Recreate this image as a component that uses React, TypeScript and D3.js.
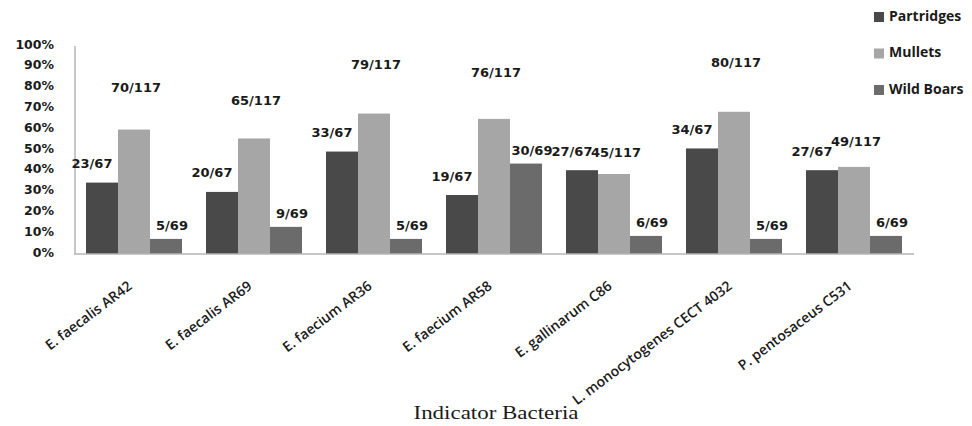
import React from "react";
import * as d3 from "d3";

const categories = [
  "E. faecalis AR42",
  "E. faecalis AR69",
  "E. faecium AR36",
  "E. faecium AR58",
  "E. gallinarum C86",
  "L. monocytogenes CECT 4032",
  "P. pentosaceus C531",
];
const seriesNames = ["Partridges", "Mullets", "Wild Boars"];
const partridgesPositive = [23, 20, 33, 19, 27, 34, 27];
const partridgesTotal = 67;
const mulletsPositive = [70, 65, 79, 76, 45, 80, 49];
const mulletsTotal = 117;
const wildBoarsPositive = [5, 9, 5, 30, 6, 5, 6];
const wildBoarsTotal = 69;
const yTicks = [0, 0.1, 0.2, 0.3, 0.4, 0.5, 0.6, 0.7, 0.8, 0.9, 1.0];

const colors = ["#494949", "#a6a6a6", "#6b6b6b"];

export default function App() {
  const W = 972;
  const H = 426;
  const x = d3
    .scaleBand<string>()
    .domain(categories)
    .range([74, 914])
    .paddingInner(0.2)
    .paddingOuter(0.1);
  const xs = d3
    .scaleBand<string>()
    .domain(seriesNames)
    .range([0, x.bandwidth()]);
  const y = d3.scaleLinear().domain([0, 1]).range([254, 46]);
  // label placement (approximates the original's manually placed labels)
  const labelY = [
    (v: number) => y(v) - 18,
    d3.scaleLinear().domain([0, 1]).range([269, -32]),
    (v: number) => y(v) - 12,
  ];
  const labelDx = [-10, 2, 6];

  const series = [
    { name: seriesNames[0], pos: partridgesPositive, tot: partridgesTotal },
    { name: seriesNames[1], pos: mulletsPositive, tot: mulletsTotal },
    { name: seriesNames[2], pos: wildBoarsPositive, tot: wildBoarsTotal },
  ];

  return (
    <svg
      width={W}
      height={H}
      style={{ position: "absolute", left: 0, top: 0, background: "#fff" }}
    >
      {yTicks.map((t) => (
        <text
          key={t}
          x={54}
          y={y(t) - 1}
          textAnchor="end"
          dominantBaseline="middle"
          fontFamily="DejaVu Sans"
          fontWeight="bold"
          fontSize={12.5}
          fill="#1a1a1a"
        >
          {d3.format(".0%")(t)}
        </text>
      ))}
      {series.map((s, si) =>
        categories.map((c, ci) => {
          const v = s.pos[ci] / s.tot;
          const bx = (x(c) as number) + (xs(s.name) as number);
          return (
            <rect
              key={s.name + c}
              x={bx}
              y={y(v)}
              width={xs.bandwidth()}
              height={y(0) - y(v)}
              fill={colors[si]}
            />
          );
        })
      )}
      <line x1={75} x2={75} y1={y(1)} y2={y(0)} stroke="#b5b5b5" strokeWidth={1.5} />
      <line x1={74} x2={914} y1={y(0)} y2={y(0)} stroke="#b5b5b5" strokeWidth={1.5} />
      {series.map((s, si) =>
        categories.map((c, ci) => {
          const v = s.pos[ci] / s.tot;
          const cx =
            (x(c) as number) + (xs(s.name) as number) + xs.bandwidth() / 2 + labelDx[si];
          return (
            <text
              key={"l" + s.name + c}
              x={cx}
              y={labelY[si](v)}
              textAnchor="middle"
              dominantBaseline="middle"
              fontFamily="DejaVu Sans"
              fontWeight="bold"
              fontSize={13}
              fill="#1a1a1a"
            >
              {`${s.pos[ci]}/${s.tot}`}
            </text>
          );
        })
      )}
      {categories.map((c) => {
        const cx = (x(c) as number) + x.bandwidth() / 2 - 1;
        return (
          <text
            key={"x" + c}
            transform={`translate(${cx},288) rotate(-37)`}
            textAnchor="end"
            fontFamily="Open Sans"
            fontWeight={600}
            fontSize={14}
            fill="#1a1a1a"
          >
            {c}
          </text>
        );
      })}
      <text
        x={496}
        y={419}
        textAnchor="middle"
        fontFamily="Liberation Serif"
        fontSize={18}
        textLength={165}
        lengthAdjust="spacingAndGlyphs"
        fill="#1a1a1a"
      >
        Indicator Bacteria
      </text>
      {seriesNames.map((n, i) => {
        const ly = 17 + i * 36.5;
        return (
          <g key={"lg" + n}>
            <rect x={874} y={ly - 5} width={10} height={10} fill={colors[i]} />
            <text
              x={889}
              y={ly}
              dominantBaseline="middle"
              fontFamily="Open Sans"
              fontWeight="bold"
              fontSize={14}
              fill="#1a1a1a"
            >
              {n}
            </text>
          </g>
        );
      })}
    </svg>
  );
}
